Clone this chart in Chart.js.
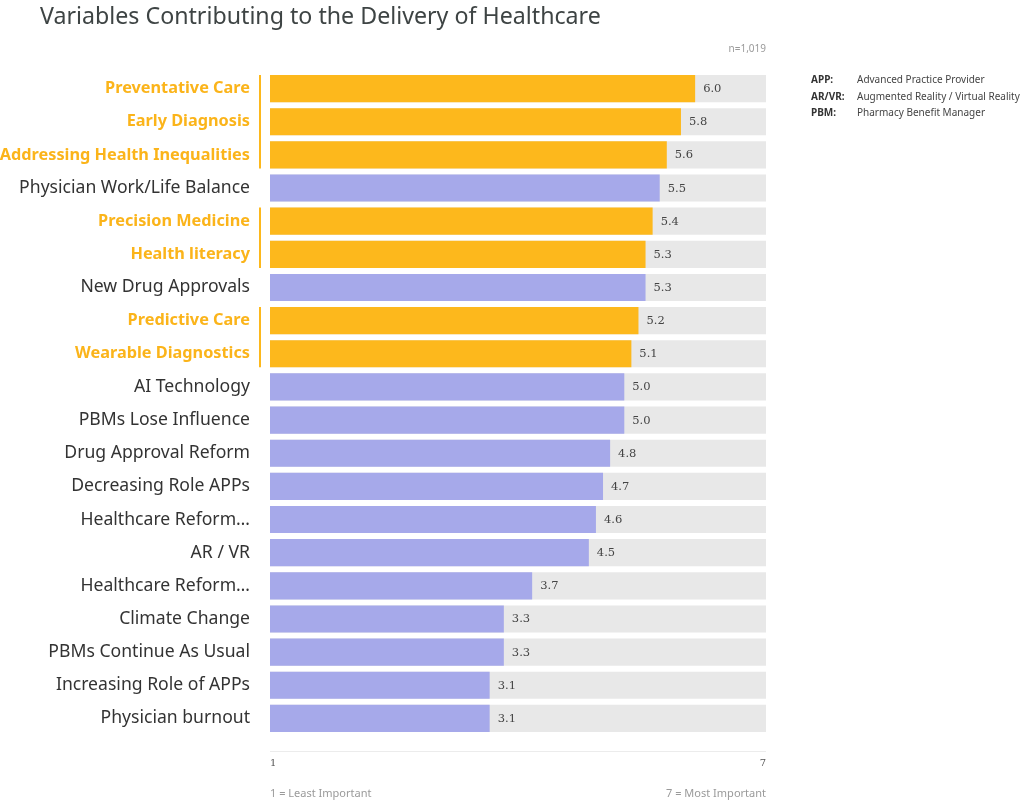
<!DOCTYPE html>
<html>
<head>
<meta charset="utf-8">
<script src="https://cdn.jsdelivr.net/npm/chart.js@4"></script>
<style>
  html, body { margin: 0; padding: 0; background: #fff; }
  #wrap { position: relative; width: 1024px; height: 800px; overflow: hidden; font-family: "Noto Sans", sans-serif; }
  #chart { position: absolute; left: 0; top: 0; }
  .title { position: absolute; left: 40px; top: -1px; font-size: 23.2px; color: #3e4444; white-space: nowrap; }
  .n { position: absolute; right: 258px; top: 41px; font-size: 10px; color: #9a9a9a; }
  .legend { position: absolute; left: 811px; top: 71px; font-size: 10px; color: #444; line-height: 16.5px; white-space: nowrap; }
  .legend .k { display: inline-block; width: 46px; font-weight: bold; color: #333; }
  .foot { position: absolute; top: 785px; font-size: 11px; color: #9a9a9a; }
</style>
</head>
<body>
<div id="wrap">
  <canvas id="chart" width="1024" height="800"></canvas>
  <div class="title">Variables Contributing to the Delivery of Healthcare</div>
  <div class="n">n=1,019</div>
  <div class="legend">
    <div><span class="k">APP:</span>Advanced Practice Provider</div>
    <div><span class="k">AR/VR:</span>Augmented Reality / Virtual Reality</div>
    <div><span class="k">PBM:</span>Pharmacy Benefit Manager</div>
  </div>
  <div class="foot" style="left:270px;">1 = Least Important</div>
  <div class="foot" style="right:258px;">7 = Most Important</div>
</div>
<script>
const categories = [
  "Preventative Care", "Early Diagnosis", "Addressing Health Inequalities",
  "Physician Work/Life Balance", "Precision Medicine", "Health literacy",
  "New Drug Approvals", "Predictive Care", "Wearable Diagnostics",
  "AI Technology", "PBMs Lose Influence", "Drug Approval Reform",
  "Decreasing Role APPs", "Healthcare Reform…", "AR / VR",
  "Healthcare Reform…", "Climate Change", "PBMs Continue As Usual",
  "Increasing Role of APPs", "Physician burnout"
];
const scores = [6.0, 5.8, 5.6, 5.5, 5.4, 5.3, 5.3, 5.2, 5.1, 5.0, 5.0, 4.8, 4.7, 4.6, 4.5, 3.7, 3.3, 3.3, 3.1, 3.1];
const highlighted = [true, true, true, false, true, true, false, true, true, false, false, false, false, false, false, false, false, false, false, false];
const scaleMax = [7, 7, 7, 7, 7, 7, 7, 7, 7, 7, 7, 7, 7, 7, 7, 7, 7, 7, 7, 7];
const axisTickLabels = { 0: "1", 7: "7" };

const YELLOW = "#fdb81c";
const YELLOW_TEXT = "#fbb41a";
const PURPLE = "#a6a9ea";
const TRACK = "#e8e8e8";

const extras = {
  id: "extras",
  afterDatasetsDraw(chart) {
    const ctx = chart.ctx;
    const area = chart.chartArea;
    const meta = chart.getDatasetMeta(0);
    ctx.save();
    ctx.font = "11.5px 'DejaVu Serif', serif";
    ctx.fillStyle = "#444";
    ctx.textAlign = "left";
    ctx.textBaseline = "middle";
    meta.data.forEach((bar, i) => {
      ctx.fillText(scores[i].toFixed(1), bar.x + 8, bar.y + 0.5);
    });
    ctx.strokeStyle = YELLOW;
    ctx.lineWidth = 2;
    let i = 0;
    while (i < highlighted.length) {
      if (highlighted[i]) {
        let j = i;
        while (j + 1 < highlighted.length && highlighted[j + 1]) j++;
        const b0 = meta.data[i], b1 = meta.data[j];
        const top = b0.y - b0.height / 2;
        const bottom = b1.y + b1.height / 2;
        ctx.beginPath();
        ctx.moveTo(260, top);
        ctx.lineTo(260, bottom);
        ctx.stroke();
        i = j + 1;
      } else i++;
    }
    ctx.strokeStyle = "#ececec";
    ctx.lineWidth = 1;
    ctx.beginPath();
    ctx.moveTo(area.left, area.bottom + 16.5);
    ctx.lineTo(area.right, area.bottom + 16.5);
    ctx.stroke();
    ctx.restore();
  }
};

new Chart(document.getElementById("chart"), {
  type: "bar",
  data: {
    labels: categories,
    datasets: [
      {
        data: scores,
        backgroundColor: highlighted.map(h => h ? YELLOW : PURPLE),
        borderWidth: 0,
        grouped: false,
        order: 0,
        barPercentage: 0.82,
        categoryPercentage: 1
      },
      {
        data: scaleMax,
        backgroundColor: TRACK,
        borderWidth: 0,
        grouped: false,
        order: 1,
        barPercentage: 0.82,
        categoryPercentage: 1
      }
    ]
  },
  options: {
    indexAxis: "y",
    responsive: false,
    animation: false,
    layout: { padding: { top: 72, right: 258, bottom: 20, left: 0 } },
    plugins: { legend: { display: false }, tooltip: { enabled: false }, title: { display: false } },
    scales: {
      x: {
        min: 0, max: 7,
        grid: { display: false, drawTicks: false },
        border: { display: false },
        afterBuildTicks(scale) { scale.ticks = [{ value: 0 }, { value: 7 }]; },
        afterFit(scale) { scale.height = 800 - 20 - 72 - 663; },
        ticks: {
          align: "inner",
          padding: 22,
          color: "#555",
          font: { family: "'DejaVu Serif', serif", size: 10 },
          callback: (v) => axisTickLabels[v] ?? ""
        }
      },
      y: {
        grid: { display: false, drawTicks: false },
        border: { display: false },
        afterFit(scale) { scale.width = 270; },
        ticks: {
          padding: 20,
          autoSkip: false,
          color: (c) => highlighted[c.index] ? YELLOW_TEXT : "#333",
          font: (c) => highlighted[c.index]
            ? { family: "'Noto Sans', sans-serif", size: 16.3, weight: "bold" }
            : { family: "'Noto Sans', sans-serif", size: 17.6, weight: "normal" }
        }
      }
    }
  },
  plugins: [extras]
});
</script>
</body>
</html>
